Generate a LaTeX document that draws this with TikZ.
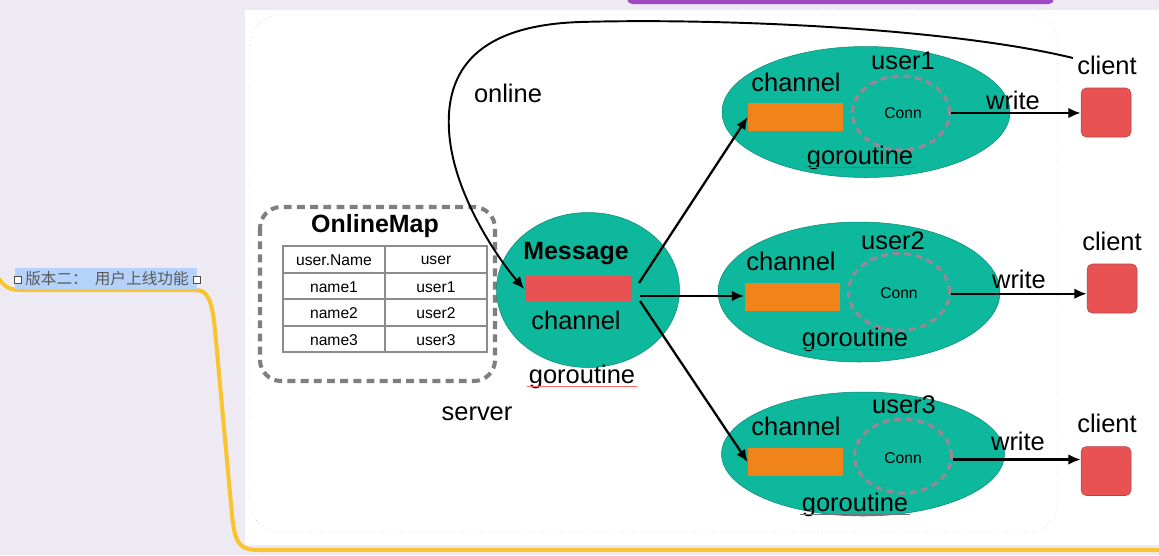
\documentclass[tikz,border=0pt]{standalone}
\usepackage{fontspec}
\setmainfont{Liberation Sans}
\newfontfamily\cjk{Noto Sans CJK SC}
\usepackage{tikz}
\usetikzlibrary{shapes.geometric}
\usetikzlibrary{arrows.meta}
\definecolor{bgColor}{HTML}{EDEAF3}
\definecolor{tealColor}{HTML}{0DB89D}
\definecolor{redColor}{HTML}{E85252}
\definecolor{orangeColor}{HTML}{F0841A}
\definecolor{yellowColor}{HTML}{F8C531}
\definecolor{purpleColor}{HTML}{A247C4}
\definecolor{markColor}{HTML}{B5D3FA}
\definecolor{connColor}{HTML}{9A8794}
\definecolor{boxColor}{HTML}{7F7F7F}

\begin{document}
\begin{tikzpicture}[x=0.02cm,y=-0.02cm]

            \tikzstyle{bigText} = [inner sep=1pt, font=\fontsize{14.5}{17}\selectfont];
            \tikzstyle{boldText} = [inner sep=1pt, font=\fontsize{14.2}{17}\selectfont\bfseries];
            \tikzstyle{smallText} = [inner sep=1pt, font=\fontsize{8.9}{11}\selectfont];
            \tikzstyle{blobNode} = [ellipse, fill=tealColor, draw=tealColor!75!black, line width=0.3pt, inner sep=0pt];
            \tikzstyle{chanNode} = [rectangle, fill=orangeColor, inner sep=0pt, minimum width=1.9cm, minimum height=0.56cm];
            \tikzstyle{connNode} = [ellipse, draw=connColor, line width=1.8pt, dash pattern=on 4pt off 2.6pt, inner sep=0pt, minimum width=1.94cm, minimum height=1.48cm];
            \tikzstyle{clientNode} = [rectangle, rounded corners=3pt, fill=redColor, draw=redColor!80!black, line width=0.3pt, inner sep=0pt, minimum width=1cm, minimum height=0.98cm];

            \tikzstyle{flowEdge} = [line width=1.3pt, -{Latex[length=7pt,width=6pt]}];
            \tikzstyle{onlineEdge} = [line width=1.1pt, -{Latex[length=7pt,width=6pt]}];
            \tikzstyle{tableLine} = [draw=black!45, line width=0.6pt];
            \tikzstyle{underLine} = [black!55, line width=0.5pt];

            % screen background
            \useasboundingbox (0,0) rectangle (1159,555);
            \fill[bgColor] (0,0) rectangle (1159,555);
            \fill[purpleColor, rounded corners=3pt] (627,-10) rectangle (1054,4);
            \fill[white] (245,10) rectangle (1159,545);
            \draw[black!20, dotted, line width=0.4pt, rounded corners=0.6cm] (250,15) rectangle (1058,532);
            \draw[yellowColor, line width=2.3pt, line cap=round] (-2,278) .. controls (6,289) and (12,290) .. (22,290)
                -- (195,290) .. controls (208,290) and (212,300) .. (215,330) -- (232,515)
                .. controls (235,545) and (240,550) .. (260,550) -- (1165,550);

            % mind map label
            \fill[markColor] (15,268) rectangle (197,289);
            \node[text=black!65, inner sep=0pt, font=\fontsize{8.9}{11}\cjk] (topic) at (107,279) {版本二：\ \ 用户上线功能};
            \node[draw=black!70, fill=white, line width=0.4pt, inner sep=0pt, minimum size=4pt] (topicL) at (18,280) {};
            \node[draw=black!70, fill=white, line width=0.4pt, inner sep=0pt, minimum size=4pt] (topicR) at (197,280) {};

            % server side
            \draw[boxColor, line width=2.3pt, dash pattern=on 4.5pt off 3pt, rounded corners=12pt] (260,207) rectangle (495,381);
            \node[boldText] (mapTitle) at (375,226) {OnlineMap};
            \draw[tableLine] (283,246) rectangle (487,352);
            \draw[tableLine] (385,246) -- (385,352);
            \draw[tableLine] (283,273) -- (487,273);
            \draw[tableLine] (283,299) -- (487,299);
            \draw[tableLine] (283,326) -- (487,326);
            \node[smallText] (keyHead) at (334,260) {user.Name};
            \node[smallText] (valHead) at (436,260) {user};
            \node[smallText] (keyA) at (334,287) {name1};
            \node[smallText] (valA) at (436,287) {user1};
            \node[smallText] (keyB) at (334,313) {name2};
            \node[smallText] (valB) at (436,313) {user2};
            \node[smallText] (keyC) at (334,340) {name3};
            \node[smallText] (valC) at (436,340) {user3};

            \node[blobNode, minimum width=3.66cm, minimum height=3.1cm] (msg) at (588,290) {};
            \node[boldText] (msgTitle) at (576,254) {Message};
            \node[rectangle, fill=redColor, inner sep=0pt, minimum width=2.14cm, minimum height=0.52cm] (msgch) at (578,289) {};
            \node[bigText] (msgchLbl) at (576,320) {channel};
            \node[bigText] (goMsg) at (582,377) {goroutine};
            \draw[red!60, line width=0.5pt] ([yshift=-1.5pt]goMsg.base west) -- ([yshift=-1.5pt]goMsg.base east);
            \node[bigText] (server) at (477,414) {server};
            \node[bigText] (online) at (508,93) {online};

            % user goroutines
            \node[blobNode, minimum width=5.76cm, minimum height=2.62cm] (userA) at (866,112) {};
            \node[blobNode, minimum width=5.64cm, minimum height=2.8cm] (userB) at (859,292) {};
            \node[blobNode, minimum width=5.66cm, minimum height=2.48cm] (userC) at (863,454) {};

            \node[chanNode] (chA) at (795.5,117) {};
            \node[chanNode] (chB) at (792,296.5) {};
            \node[chanNode] (chC) at (795.5,462) {};
            \node[bigText] (chLblA) at (796,82) {channel};
            \node[bigText] (chLblB) at (791,261) {channel};
            \node[bigText] (chLblC) at (796,426) {channel};

            \node[connNode] (connA) at (901,113) {};
            \node[connNode, minimum width=2.02cm, minimum height=1.54cm] (connB) at (899,292) {};
            \node[connNode] (connC) at (903,456) {};
            \node[smallText] (connLblA) at (903,113) {Conn};
            \node[smallText] (connLblB) at (899,293) {Conn};
            \node[smallText] (connLblC) at (903,458) {Conn};
            \node[bigText] (nameA) at (903,61) {user1};
            \node[bigText] (nameB) at (893,241) {user2};
            \node[bigText] (nameC) at (904,405) {user3};

            \node[bigText] (goA) at (860,158) {goroutine};
            \node[bigText] (goB) at (855,340) {goroutine};
            \node[bigText] (goC) at (855,505) {goroutine};
            \draw[underLine] ([yshift=-1.5pt]goA.base west) -- ([yshift=-1.5pt]goA.base east);
            \draw[underLine] ([yshift=-1.5pt]goB.base west) -- ([yshift=-1.5pt]goB.base east);
            \draw[underLine] ([yshift=-1.5pt]goC.base west) -- ([yshift=-1.5pt]goC.base east);

            % clients
            \node[clientNode] (clientA) at (1106,112.5) {};
            \node[clientNode] (clientB) at (1112,288.5) {};
            \node[clientNode] (clientC) at (1106,471) {};
            \node[bigText] (clientLblA) at (1107,65) {client};
            \node[bigText] (clientLblB) at (1112,241) {client};
            \node[bigText] (clientLblC) at (1107,423) {client};
            \node[bigText] (writeA) at (1013,100) {write};
            \node[bigText] (writeB) at (1019,279) {write};
            \node[bigText] (writeC) at (1018,441) {write};

            % edges
            \coordinate (forkA) at (639,283);
            \coordinate (forkB) at (640,296);
            \coordinate (forkC) at (640,301);
            \coordinate (onlineStart) at (1073,58);
            \draw[flowEdge] (forkA) -- (chA.west);
            \draw[flowEdge] (forkB) -- (forkB -| chB.west);
            \draw[flowEdge] (forkC) -- (chC.west);
            \draw[flowEdge] (connA.east) -- (connA.east -| clientA.west);
            \draw[flowEdge] ([yshift=-1pt]connB.east) -- ([yshift=-1pt]connB.east -| clientB.west);
            \draw[flowEdge] ([yshift=-2pt]connC.east) -- ([yshift=-2pt]connC.east -| clientC.west);
            \draw[onlineEdge] (onlineStart) .. controls (950,28) and (720,18) .. (580,22)
                .. controls (490,25) and (445,60) .. (449,130)
                .. controls (452,190) and (495,255) .. (msgch.west);
          \end{tikzpicture}
\end{document}
